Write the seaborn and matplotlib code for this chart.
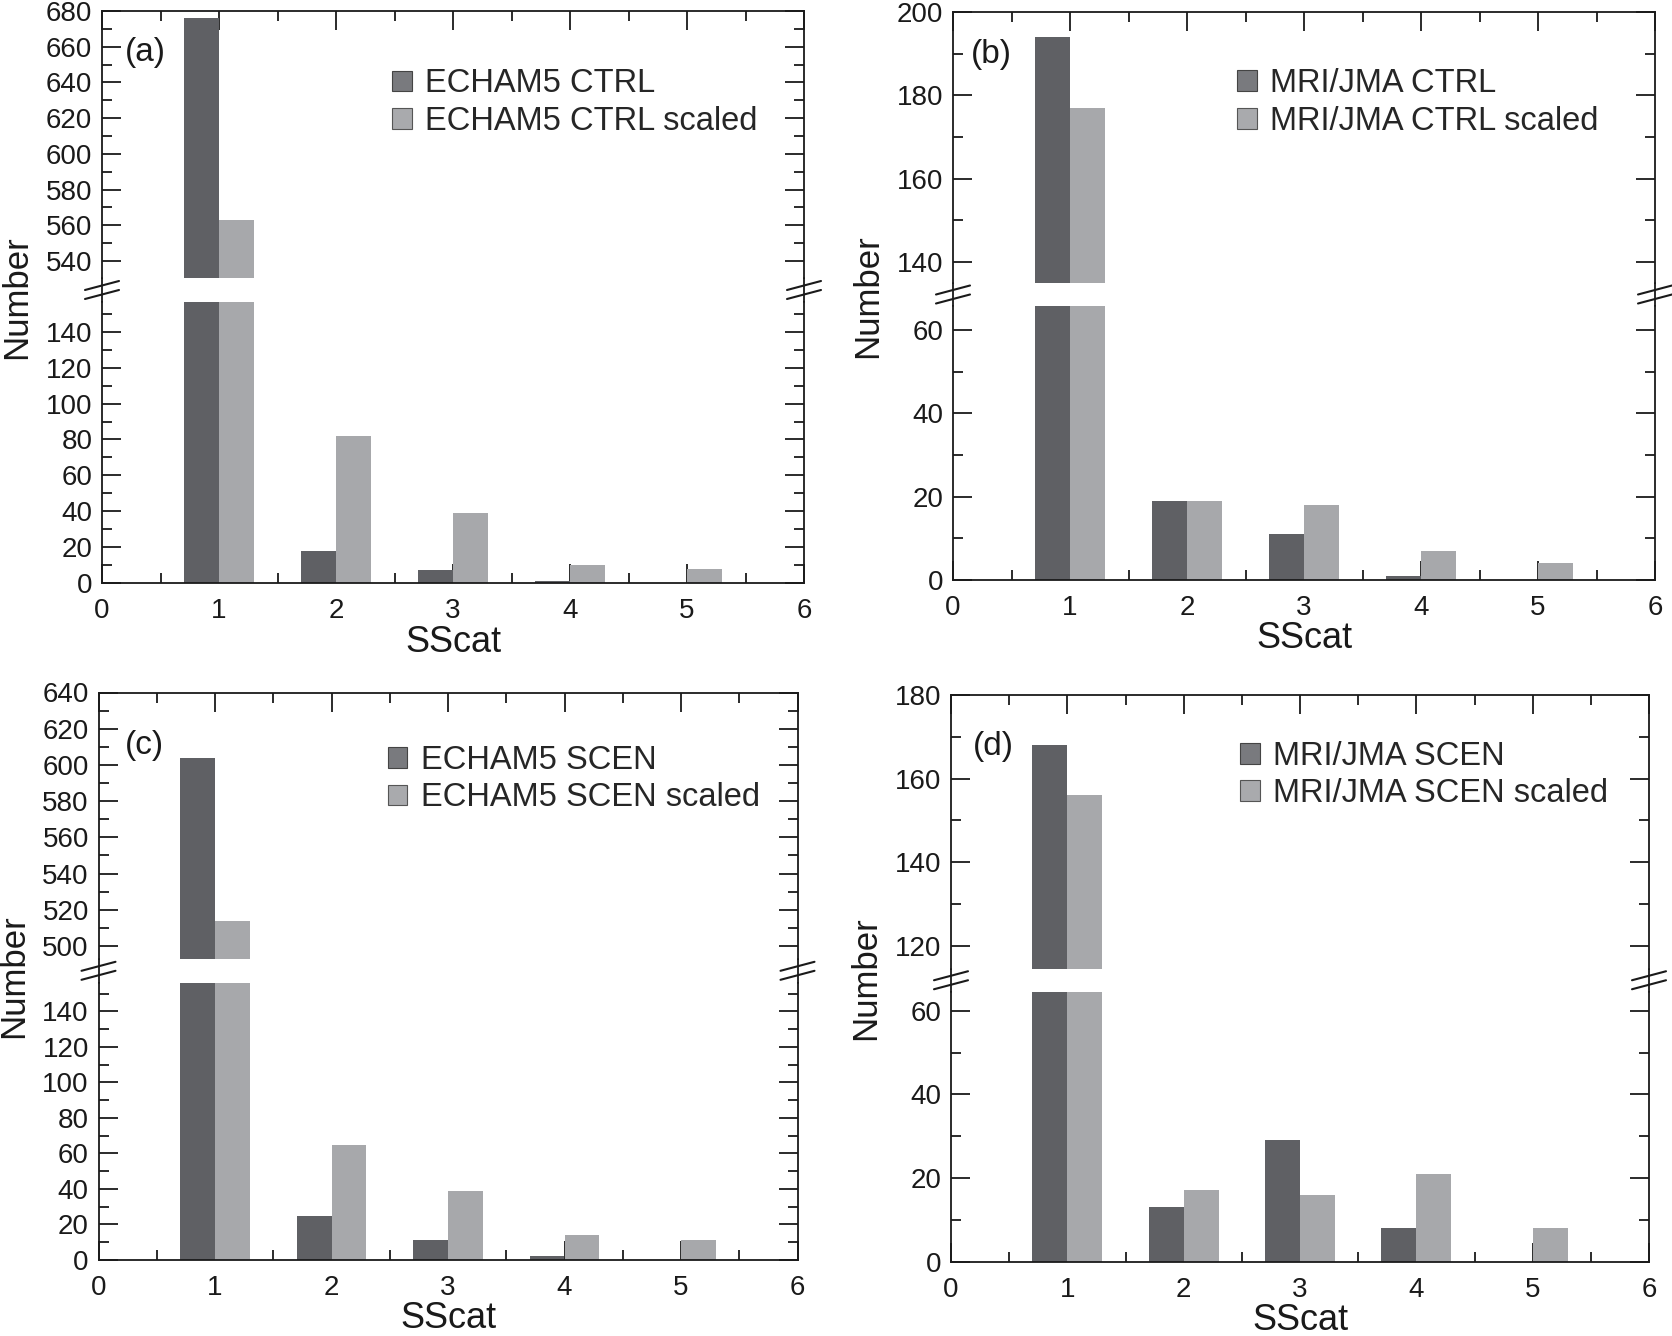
import numpy as np
import pandas as pd
import matplotlib
matplotlib.use('Agg')
import matplotlib.pyplot as plt
import seaborn as sns
from matplotlib.lines import Line2D
from matplotlib.patches import Patch
from matplotlib.ticker import MultipleLocator

# ---------------- data ----------------
sscat = [1, 2, 3, 4, 5]
echam_ctrl = [676, 18, 7, 1, 0]
echam_ctrl_scaled = [563, 82, 39, 10, 8]
mri_ctrl = [194, 19, 11, 1, 0]
mri_ctrl_scaled = [177, 19, 18, 7, 4]
echam_scen = [604, 25, 11, 2, 0]
echam_scen_scaled = [514, 65, 39, 14, 11]
mri_scen = [168, 13, 29, 8, 0]
mri_scen_scaled = [156, 17, 16, 21, 8]

panel_letters = ['(a)', '(b)', '(c)', '(d)']
series_a = ['ECHAM5 CTRL', 'ECHAM5 CTRL scaled']
series_b = ['MRI/JMA CTRL', 'MRI/JMA CTRL scaled']
series_c = ['ECHAM5 SCEN', 'ECHAM5 SCEN scaled']
series_d = ['MRI/JMA SCEN', 'MRI/JMA SCEN scaled']

# y ranges (upper part, lower part) and major tick ranges
ylim_top = [(530.5, 680), (135, 200), (493, 640), (114.5, 180)]
ylim_bot = [(0, 156.6), (0, 65.8), (0, 156), (0, 64.5)]
yticks_top = [np.arange(540, 681, 20), np.arange(140, 201, 20),
              np.arange(500, 641, 20), np.arange(120, 181, 20)]
yticks_bot = [np.arange(0, 141, 20), np.arange(0, 61, 20),
              np.arange(0, 141, 20), np.arange(0, 61, 20)]
xticks = [0, 1, 2, 3, 4, 5, 6]

# ---------------- style ----------------
sns.set_theme(style='ticks')
plt.rcParams['font.family'] = ['Liberation Sans', 'DejaVu Sans']

DARK = '#5f6064'
LIGHT = '#a7a8ab'
LEG_DARK = '#797a7e'
LEG_LIGHT = '#a9aaad'

W, H = 1672, 1336
fig = plt.figure(figsize=(W / 100, H / 100), dpi=100)
fig.patch.set_facecolor('white')

# panel geometry in pixels: left, right, top, gap_top, gap_bottom, bottom
geo = [
    (102, 804, 11, 278, 302, 583),
    (953, 1655, 12, 283, 306, 580),
    (98.5, 797.5, 692.5, 958.6, 983, 1260),
    (951, 1649, 695, 968.5, 992, 1261.5),
]

panels = [
    (echam_ctrl, echam_ctrl_scaled, series_a),
    (mri_ctrl, mri_ctrl_scaled, series_b),
    (echam_scen, echam_scen_scaled, series_c),
    (mri_scen, mri_scen_scaled, series_d),
]

legend_anchor = [(0.413, 0.785), (0.405, 0.792), (0.414, 0.803), (0.414, 0.833)]
letter_pos = [(0.032, 0.845), (0.026, 0.845), (0.038, 0.80), (0.031, 0.81)]


def fx(x):
    return x / W


def fy(y):
    return 1 - y / H


for i, ((l, r, t, gt, gb, b), (s1, s2, names)) in enumerate(zip(geo, panels)):
    ax_top = fig.add_axes([fx(l), fy(gt), (r - l) / W, (gt - t) / H])
    ax_bot = fig.add_axes([fx(l), fy(b), (r - l) / W, (b - gb) / H])

    df = pd.DataFrame({
        'SScat': sscat + sscat,
        'Number': list(s1) + list(s2),
        'Series': [names[0]] * len(sscat) + [names[1]] * len(sscat),
    })
    for ax in (ax_top, ax_bot):
        sns.barplot(data=df, x='SScat', y='Number', hue='Series',
                    hue_order=names, palette=[DARK, LIGHT],
                    native_scale=True, width=0.6, saturation=1,
                    errorbar=None, linewidth=0, edgecolor='none',
                    legend=False, ax=ax)
        ax.set_xlim(0, 6)
        ax.set_xlabel('')
        ax.set_ylabel('')
        ax.set_facecolor('white')
        ax.xaxis.set_major_locator(MultipleLocator(1))
        ax.xaxis.set_minor_locator(MultipleLocator(0.5))
        ax.yaxis.set_minor_locator(MultipleLocator(10))
        ax.tick_params(axis='both', which='major', direction='in',
                       length=14, width=1.3, color='#1a1a1a',
                       labelsize=20, labelcolor='#1a1a1a')
        ax.tick_params(axis='both', which='minor', direction='in',
                       length=7, width=1.3, color='#1a1a1a')
        ax.tick_params(axis='y', which='both', left=True, right=True, pad=7)
        for sp in ax.spines.values():
            sp.set_linewidth(1.3)
            sp.set_color('#1a1a1a')

    ax_top.set_ylim(*ylim_top[i])
    ax_bot.set_ylim(*ylim_bot[i])
    ax_top.set_yticks(yticks_top[i])
    ax_bot.set_yticks(yticks_bot[i])
    ax_top.set_xticks(xticks)
    ax_bot.set_xticks(xticks)
    ax_bot.set_xticklabels([str(v) for v in xticks])

    ax_top.spines['bottom'].set_visible(False)
    ax_bot.spines['top'].set_visible(False)
    ax_top.tick_params(axis='x', which='both', bottom=False, top=True,
                       labelbottom=False, labeltop=False)
    ax_bot.tick_params(axis='x', which='both', bottom=True, top=False,
                       labelbottom=True, pad=11)

    # continuous side spines through the gap + break marks
    for xs in (l, r):
        fig.add_artist(Line2D([fx(xs), fx(xs)], [fy(gt), fy(gb)],
                              color='#1a1a1a', lw=1.3))
        yc = (gt + gb) / 2
        for off in (-4.5, 4.5):
            fig.add_artist(Line2D([fx(xs - 17), fx(xs + 17)],
                                  [fy(yc + off + 4.5), fy(yc + off - 4.5)],
                                  color='#1a1a1a', lw=1.5))

    # legend
    handles = [Patch(facecolor=LEG_DARK, edgecolor='#444444', lw=0.8, label=names[0]),
               Patch(facecolor=LEG_LIGHT, edgecolor='#555555', lw=0.8, label=names[1])]
    ax_top.legend(handles=handles, loc='upper left',
                  bbox_to_anchor=legend_anchor[i], frameon=False,
                  fontsize=23.5, handlelength=0.6, handleheight=0.6,
                  handletextpad=0.4, labelspacing=0.2, borderpad=0,
                  borderaxespad=0)

    # panel letter
    ax_top.text(letter_pos[i][0], letter_pos[i][1], panel_letters[i],
                transform=ax_top.transAxes, fontsize=24, ha='left',
                va='center', color='#1a1a1a')

    # axis labels
    fig.text(fx(l - 85), fy((t + b) / 2), 'Number', rotation=90,
             ha='center', va='center', fontsize=25, color='#1a1a1a')
    fig.text(fx((l + r) / 2), fy(b + 59), 'SScat', ha='center',
             va='center', fontsize=26, color='#1a1a1a')

fig.savefig('out.png', dpi=100, facecolor='white')
